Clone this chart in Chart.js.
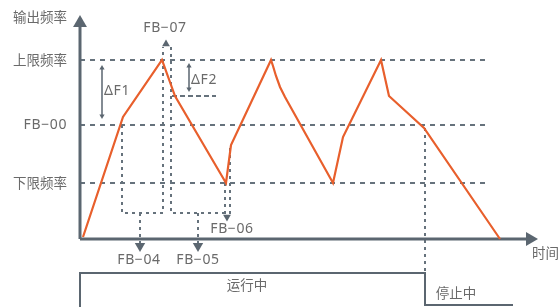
<!DOCTYPE html>
<html><head><meta charset="utf-8">
<script src="https://cdn.jsdelivr.net/npm/chart.js@4/dist/chart.umd.min.js"></script>
<style>html,body{margin:0;padding:0;background:#fff;}canvas{display:block;}</style>
</head><body>
<canvas id="c" width="559" height="307"></canvas>
<script>
// ---- data (time t, frequency f in diagram units) ----
const outputT = [3, 43, 82, 95, 146, 151, 191, 193, 196, 200, 205, 253, 263, 301, 309, 344, 420];
const outputF = [2, 122, 179, 143, 56, 94, 179, 173, 163, 152, 142, 56, 102, 179, 143, 111, 0];

const levelNames = ['上限频率', 'FB−00', '下限频率'];
const levelValues = [179, 114, 56];
const levelEndT = 410;

// dotted guide polylines: [t, f] vertices
const guideFB04 = [[42, 114], [42, 26], [83, 26], [83, 192]];
const guideFB05 = [[91, 192], [91, 26], [150, 26], [150, 94]];
const guideFB06 = [[145, 56], [145, 24]];
const stemFB04 = [[60, 26], [60, -4]];
const stemFB05 = [[118, 26], [118, -4]];
const stopGuide = [[345, 111], [345, -34]];
const deltaF2Ref = [[92, 143], [136, 143]];

// run state step: run (high) until stop time, then low
const runStopT = 345;
const runStateT = [0, 0, runStopT, runStopT, 433];
const runStateF = [-72, -34, -34, -66, -66];

const axisY = [[0, 0], [0, 214]];
const axisX = [[0, 0], [448, 0]];

const C_ORANGE = '#e85f2c';
const C_AXIS = '#5b6670';
const C_GUIDE = '#66727c';
const C_TEXT = '#6a6a6a';

const pts = arr => arr.map(p => ({x: p[0], y: p[1]}));
const lineDs = (data, color, width, dash, order) => ({
  type: 'line', data, borderColor: color, borderWidth: width, borderDash: dash || [],
  pointRadius: 0, fill: false, tension: 0, order: order, clip: false
});
const arrowDs = (x, y, r, rot) => ({
  type: 'scatter', data: [{x, y}], pointStyle: 'triangle', pointRadius: r,
  pointRotation: rot, backgroundColor: C_AXIS, borderColor: C_AXIS, borderWidth: 0,
  order: 5, clip: false
});

const datasets = [];
datasets.push(lineDs(outputT.map((t, i) => ({x: t, y: outputF[i]})), C_ORANGE, 2.2, [], 0));
levelValues.forEach(v => datasets.push(lineDs([{x: 0, y: v}, {x: levelEndT, y: v}], C_GUIDE, 2, [5, 5], 8)));
[guideFB04, guideFB05, guideFB06, stemFB04, stemFB05, stopGuide].forEach(g =>
  datasets.push(lineDs(pts(g), C_GUIDE, 2, [3, 4], 7)));
datasets.push(lineDs(pts(deltaF2Ref), C_GUIDE, 2, [5, 3], 7));
datasets.push(lineDs(runStateT.map((t, i) => ({x: t, y: runStateF[i]})), C_AXIS, 2, [], 6));
datasets.push(lineDs(pts(axisY), C_AXIS, 3, [], 6));
datasets.push(lineDs(pts(axisX), C_AXIS, 3, [], 6));
// delta arrows
datasets.push(lineDs([{x: 22, y: 171}, {x: 22, y: 123}], C_AXIS, 1.5, [], 6));
datasets.push(lineDs([{x: 109, y: 173}, {x: 109, y: 150}], C_AXIS, 1.5, [], 6));
// arrowheads
datasets.push(arrowDs(0, 216, 8, 0));
datasets.push(arrowDs(450, 0, 8, 90));
datasets.push(arrowDs(86, 195, 4.5, 0));
datasets.push(arrowDs(60, -7, 6, 180));
datasets.push(arrowDs(118, -7, 6, 180));
datasets.push(arrowDs(147, 22, 4.5, 180));
datasets.push(arrowDs(22, 171, 3, 0));
datasets.push(arrowDs(22, 123, 3, 180));
datasets.push(arrowDs(109, 173, 3, 0));
datasets.push(arrowDs(109, 150, 3, 180));

const labels = [
  {text: '输出频率', t: -13, f: 222, align: 'right', latin: false},
  {text: 'FB−07', t: 85, f: 211, align: 'center', latin: true},
  {text: 'ΔF1', t: 24, f: 148, align: 'left', latin: true},
  {text: 'ΔF2', t: 111, f: 159, align: 'left', latin: true},
  {text: 'FB−06', t: 152, f: 10, align: 'center', latin: true},
  {text: 'FB−04', t: 59, f: -21, align: 'center', latin: true},
  {text: 'FB−05', t: 118, f: -21, align: 'center', latin: true},
  {text: '时间', t: 452, f: -14, align: 'left', latin: false},
  {text: '运行中', t: 167, f: -46, align: 'center', latin: false},
  {text: '停止中', t: 376, f: -54, align: 'center', latin: false}
];

const FONT_CJK = '13.5px "Noto Sans CJK SC", "Noto Sans", sans-serif';
const FONT_LAT = '14px "Noto Sans", "Noto Sans CJK SC", sans-serif';

const textPlugin = {
  id: 'texts',
  afterDatasetsDraw(chart) {
    const ctx = chart.ctx, xs = chart.scales.x, ys = chart.scales.y;
    ctx.save();
    ctx.fillStyle = C_TEXT;
    ctx.textBaseline = 'middle';
    const draw = (text, t, f, align, latin) => {
      ctx.font = latin ? FONT_LAT : FONT_CJK;
      ctx.letterSpacing = latin ? '0.6px' : '0px';
      ctx.textAlign = align;
      ctx.fillText(text, xs.getPixelForValue(t), ys.getPixelForValue(f));
    };
    levelNames.forEach((n, i) => draw(n, -13, levelValues[i], 'right', /^[A-Z]/.test(n)));
    labels.forEach(l => draw(l.text, l.t, l.f, l.align, l.latin));
    ctx.restore();
  }
};

new Chart(document.getElementById('c'), {
  type: 'line',
  data: {datasets},
  options: {
    responsive: false, animation: false, devicePixelRatio: 1,
    layout: {padding: 0, autoPadding: false},
    plugins: {legend: {display: false}, tooltip: {enabled: false}},
    scales: {
      x: {type: 'linear', display: false, min: -80, max: 479},
      y: {type: 'linear', display: false, min: -68, max: 239}
    }
  },
  plugins: [textPlugin]
});
</script>
</body></html>
